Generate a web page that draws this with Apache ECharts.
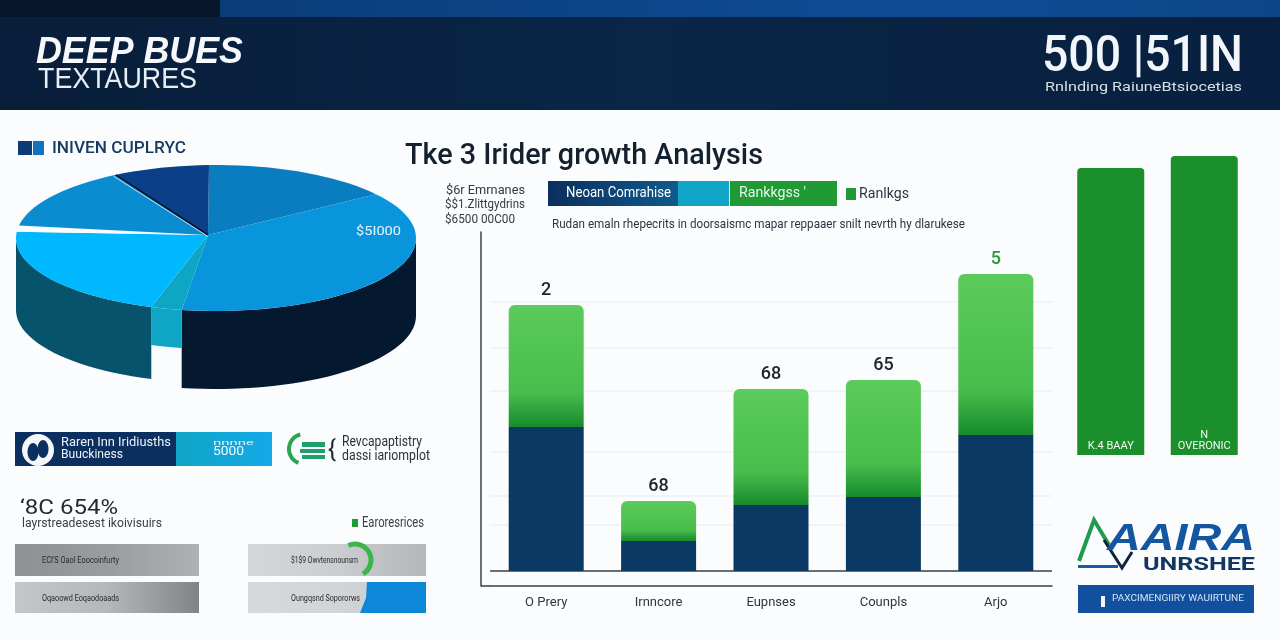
<!DOCTYPE html>
<html>
<head>
<meta charset="utf-8">
<style>html,body{margin:0;padding:0;background:#fbfcfd}#c{width:1280px;height:640px}</style>
<script src="https://cdn.jsdelivr.net/npm/echarts@6/dist/echarts.min.js"></script>
</head>
<body>
<div id="c"></div>
<script>
// ---- data ----
var categories = ['O Prery', 'Irnncore', 'Eupnses', 'Counpls', 'Arjo'];
var navyValues = [144, 30, 66, 74, 136];
var greenValues = [122, 40, 116, 117, 161];
var topLabels = ['2', '68', '68', '65', '5'];
var referenceLevels = [269, 223, 180, 119, 75, 46];
var sideCategories = ['K.4 BAAY', 'N\nOVERONIC'];
var sideValues = [287, 299];
var pieShares = [15.3, 38, 2.5, 21.1, 1.4, 13.9, 7.8];
var pieColors = ['#0a7cc0', '#0895dc', '#0fa6c6', '#00b8ff', '#fbfcfd', '#0a8dd0', '#0b3f87'];
var pieWallColors = [null, '#04182f', '#0fa6c6', '#07536b', null, null, null];
var pieWallDepths = [0, 78, 38, 72, 0, 0, 0];

// ---- helpers ----
var FONT = 'Roboto, "Noto Sans", sans-serif';
var measure = document.createElement('canvas').getContext('2d');
function T(text, x, y, size, color, width, opts) {
  opts = opts || {};
  var font = (opts.style || 'normal') + ' ' + (opts.weight || 'normal') + ' ' + size + 'px ' + (opts.family || FONT);
  measure.font = font;
  var natural = measure.measureText(text).width;
  return {
    type: 'text', x: x, y: y + size * 0.07, z: 100, silent: true,
    scaleX: width ? width / natural : 1,
    style: { text: text, x: 0, y: 0, fill: color, font: font, textAlign: 'left', textVerticalAlign: 'middle' }
  };
}
function R(x, y, w, h, fill, r) {
  return { type: 'rect', z: 10, silent: true, shape: { x: x, y: y, width: w, height: h, r: r || 0 }, style: { fill: fill } };
}
function H(stops) { // horizontal gradient
  return { type: 'linear', x: 0, y: 0, x2: 1, y2: 0, colorStops: stops.map(function (c, i) { return { offset: i / (stops.length - 1), color: c }; }) };
}

// ---- pie geometry ----
var PIE = { cx: 216, cy: 238, rx: 200, ry: 73, ax: 208, ay: 235, start: -2 };
function rimPoint(deg, dy) {
  var t = deg * Math.PI / 180;
  return [PIE.cx + PIE.rx * Math.sin(t), PIE.cy - PIE.ry * Math.cos(t) + (dy || 0)];
}
function arcPoints(a, b, dy) {
  var pts = [], n = Math.max(2, Math.ceil(Math.abs(b - a) / 3));
  for (var i = 0; i <= n; i++) pts.push(rimPoint(a + (b - a) * i / n, dy));
  return pts;
}
var pieTotal = pieShares.reduce(function (s, v) { return s + v; }, 0);
function renderSlice(params, api) {
  var i = params.dataIndex, before = 0;
  for (var k = 0; k < i; k++) before += pieShares[k];
  var a = PIE.start + before / pieTotal * 360, b = a + api.value(0) / pieTotal * 360;
  var children = [];
  var depth = pieWallDepths[i];
  if (depth) {
    var wa = Math.max(a, 90), wb = Math.min(b, 270);
    var top = arcPoints(wa, wb, 0), bottom = arcPoints(wb, wa, depth);
    children.push({ type: 'polygon', shape: { points: top.concat(bottom) }, style: { fill: pieWallColors[i] } });
  }
  children.push({
    type: 'polygon',
    shape: { points: [[PIE.ax, PIE.ay]].concat(arcPoints(a, b, 0)) },
    style: { fill: pieColors[i] }
  });
  if (i === pieShares.length - 1) {
    var p = rimPoint(a, 0);
    children.push({ type: 'line', shape: { x1: PIE.ax, y1: PIE.ay, x2: p[0], y2: p[1] }, style: { stroke: '#06142a', lineWidth: 1.6 } });
    children.push({ type: 'line', shape: { x1: PIE.ax, y1: PIE.ay + 1.5, x2: p[0] - 2, y2: p[1] + 1.5 }, style: { stroke: '#e8f2fa', lineWidth: 0.8 } });
  }
  return { type: 'group', children: children };
}

// ---- static page elements ----
var g = [];
// header
g.push(R(0, 0, 1280, 110, H(['#081e3a', '#0a2546', '#08203f'])));
g.push(R(0, 0, 220, 17, '#07152b'));
g.push(R(220, 0, 1060, 17, H(['#0b3c7a', '#0d4488', '#0f4c96', '#0d4688'])));
g.push(T('DEEP BUES', 36, 50, 37, '#f6f8fb', 207, { style: 'italic', weight: 'bold', family: '"Liberation Sans", sans-serif' }));
g.push(T('TEXTAURES', 38, 78, 29, '#e9eef4', 159, { family: '"Liberation Sans", sans-serif' }));
g.push(T('500 |51IN', 1042, 55, 50, '#f2f5f9', 201, { family: 'Roboto, sans-serif', weight: '500' }));
g.push(T('Rnlnding RaiuneBtsiocetias', 1045, 87, 13, '#d7dfe8', 197));
// pie legend
g.push(R(18, 141, 14, 14, '#0c3a73'));
g.push(R(33, 141, 11, 14, '#0f74bb'));
g.push(T('INIVEN CUPLRYC', 52, 148, 17, '#173a63', 134, { weight: '500' }));
g.push(T('$5I000', 356, 231, 13, '#e8f5fd', 45));
// title block
g.push(T('Tke 3 Irider growth Analysis', 405, 155, 29, '#14202e', 358, { weight: '500' }));
g.push(T('$6r Emrnanes', 446, 190, 13, '#333a42', 79));
g.push(T('$$1.Zlittgydrins', 445, 204, 13, '#333a42', 80));
g.push(T('$6500 00C00', 445, 219, 13, '#333a42', 70));
g.push(R(548, 181, 130, 25, H(['#0b2f5e', '#0e5a8c'])));
g.push(R(678, 181, 51, 25, '#12a5c8'));
g.push(R(730, 181, 107, 25, '#1f9a34'));
g.push(T('Neoan Comrahise', 566, 193, 14, '#ffffff', 105));
g.push(T("Rankkgss '", 739, 193, 14, '#eaf7ec', 67));
g.push(R(846, 188, 10, 12, '#1f9a34'));
g.push(T('Ranlkgs', 859, 194, 14, '#2d3640', 50));
g.push(T('Rudan emaln rhepecrits in doorsaismc mapar reppaaer snilt nevrth hy dlarukese', 552, 224, 13, '#2d3640', 413));
// left cards
g.push(R(15, 432, 161, 34, '#0b2f5e'));
g.push(R(176, 432, 96, 34, H(['#10a5c5', '#14a9e8'])));
g.push({ type: 'circle', z: 11, silent: true, shape: { cx: 38, cy: 450, r: 16 }, style: { fill: '#f4f6f8' } });
g.push({ type: 'ellipse', z: 12, silent: true, shape: { cx: 33, cy: 452, rx: 5.5, ry: 9 }, style: { fill: '#0b2f5e' } });
g.push({ type: 'ellipse', z: 12, silent: true, shape: { cx: 43, cy: 449, rx: 5.5, ry: 9 }, style: { fill: '#0b2f5e' } });
g.push(T('Raren Inn Iridiusths', 61, 442, 12, '#eef3f8', 110));
g.push(T('Buuckiness', 61, 454, 12, '#eef3f8', 62));
g.push(T('nnnne', 213, 442, 8, '#dff5fd', 41));
g.push(T('5000', 213, 451, 12, '#f2fbff', 31));
g.push({ type: 'arc', z: 11, silent: true, shape: { cx: 304, cy: 449, r: 15, startAngle: Math.PI * 0.62, endAngle: Math.PI * 1.42, clockwise: true }, style: { stroke: '#2aa44f', lineWidth: 4, fill: 'none' } });
g.push(R(302, 442, 23, 5, '#1f9f6a'));
g.push(R(300, 449, 25, 4, '#1f9f6a'));
g.push(R(302, 455, 23, 4, '#1f9f6a'));
g.push(T('{', 328, 449, 24, '#222a33', 8));
g.push(T('Revcapaptistry', 342, 442, 14, '#2b3138', 80));
g.push(T('dassi iariomplot', 342, 456, 14, '#2b3138', 88));
g.push(T("\u20188C 654%", 20, 507, 21, '#242a31', 98));
g.push(T('layrstreadesest ikoivisuirs', 22, 523, 13, '#3a4149', 140));
g.push(R(352, 519, 6, 8, '#1f9a34'));
g.push(T('Earoresrices', 362, 523, 14, '#3a4149', 62));
// grey panels
g.push(R(15, 544, 184, 32, H(['#8f9093', '#9b9ca0', '#aeb0b4'])));
g.push(R(15, 582, 184, 31, H(['#c4c6c9', '#b6b7ba', '#828387'])));
g.push(R(248, 544, 178, 32, H(['#d4d6d9', '#cbcdd0', '#b4b6b9'])));
g.push(R(248, 582, 178, 31, H(['#d6d8db', '#d2d4d7', '#c6cacf'])));
g.push({ type: 'polygon', z: 11, silent: true, shape: { points: [[367, 582], [426, 582], [426, 613], [360, 613], [366, 598]] }, style: { fill: '#0d88d8' } });
g.push({ type: 'arc', z: 11, silent: true, shape: { cx: 355, cy: 560, r: 16, startAngle: -2.0, endAngle: 1.05, clockwise: true }, style: { stroke: '#3cb54a', lineWidth: 5, fill: 'none' } });
g.push(T('ECI'+"'"+'S Oaol Eoocoinfurty', 42, 560, 9, '#26292d', 77));
g.push(T('Oqaoowd Eoqaodoaads', 42, 598, 9, '#26292d', 77));
g.push(T('$1$9 Owvtensnounsm', 291, 560, 9, '#26292d', 67));
g.push(T('Oungqsnd Sopororws', 291, 598, 9, '#26292d', 69));
// logo
g.push({ type: 'polyline', z: 11, silent: true, shape: { points: [[1079, 561], [1094, 520], [1109, 545]] }, style: { stroke: '#1f9a50', lineWidth: 4, fill: 'none' } });
g.push({ type: 'polyline', z: 11, silent: true, shape: { points: [[1104, 540], [1122, 568], [1132, 552]] }, style: { stroke: '#10243c', lineWidth: 3, fill: 'none' } });
g.push(R(1078, 565, 40, 3, '#1c5aa5'));
g.push(T('AAIRA', 1107, 537, 37, '#14569f', 148, { weight: 'bold', style: 'italic', family: '"Liberation Sans", sans-serif' }));
g.push(T('UNRSHEE', 1143, 564, 19, '#12365f', 112, { weight: 'bold' }));
g.push(R(1078, 585, 176, 28, '#10509f'));
g.push(R(1101, 596, 4, 11, '#f2f6fb'));
g.push(T('PAXCIMENGIIRY WAUIRTUNE', 1112, 598, 9, '#d5e3f4', 132));
// stub of the bottom axis left of the first category band
g.push({ type: 'line', z: 10, silent: true, shape: { x1: 481, y1: 586, x2: 490, y2: 586 }, style: { stroke: '#3a4048', lineWidth: 1.5 } });

var referenceLines = referenceLevels.map(function (v) {
  return { yAxis: v, lineStyle: { color: '#eef0f3', width: 1.5, type: 'solid' } };
});
referenceLines.push({ yAxis: 0, lineStyle: { color: '#3a4048', width: 1.5, type: 'solid' } });

var option = {
  backgroundColor: '#fbfcfd',
  animation: false,
  graphic: { elements: g },
  grid: [
    { left: 490, right: 228, top: 232, bottom: 54 },
    { left: 1064, width: 187, top: 135, bottom: 185 }
  ],
  xAxis: [
    { type: 'category', gridIndex: 0, data: categories,
      axisLine: { show: true, onZero: false, lineStyle: { color: '#3a4048', width: 1.5 } },
      axisTick: { show: false },
      axisLabel: { color: '#2d3640', fontSize: 13, margin: 10, fontFamily: FONT } },
    { type: 'category', gridIndex: 1, data: sideCategories, show: false }
  ],
  yAxis: [
    { type: 'value', gridIndex: 0, min: -15, max: 339, offset: 9,
      axisLine: { show: true, lineStyle: { color: '#3a4048', width: 1.5 } },
      axisTick: { show: false }, axisLabel: { show: false }, splitLine: { show: false } },
    { type: 'value', gridIndex: 1, min: 0, max: 320, show: false, splitLine: { show: false } }
  ],
  series: [
    { type: 'bar', name: 'Navy', stack: 'main', xAxisIndex: 0, yAxisIndex: 0, z: 3, barWidth: 75,
      data: navyValues, itemStyle: { color: '#0a3a63' },
      markLine: { silent: true, symbol: 'none', z: 1, label: { show: false }, data: referenceLines } },
    { type: 'bar', name: 'Green', stack: 'main', xAxisIndex: 0, yAxisIndex: 0, z: 3, barWidth: 75,
      data: greenValues.map(function (v, i) {
        return { value: v, label: { color: i === greenValues.length - 1 ? '#2a9a35' : '#20262d' } };
      }),
      itemStyle: { borderRadius: [6, 6, 0, 0], color: { type: 'linear', x: 0, y: 0, x2: 0, y2: 1, colorStops: [
        { offset: 0, color: '#5bcb5b' }, { offset: 0.72, color: '#48bd4c' }, { offset: 1, color: '#178a2c' } ] } },
      label: { show: true, position: 'top', distance: 6, fontSize: 18, fontWeight: '500', fontFamily: FONT,
        formatter: function (p) { return topLabels[p.dataIndex]; } } },
    { type: 'bar', name: 'Side', xAxisIndex: 1, yAxisIndex: 1, barWidth: 67,
      data: sideValues, itemStyle: { color: '#1c8f2d', borderRadius: [4, 4, 0, 0] },
      label: { show: true, position: 'insideBottom', distance: 3, color: '#f2f8f2', fontSize: 11, fontFamily: FONT,
        formatter: function (p) { return sideCategories[p.dataIndex]; } } },
    { type: 'custom', name: 'Share', coordinateSystem: 'none', z: 2, silent: true,
      data: pieShares.map(function (v) { return [v]; }),
      renderItem: renderSlice }
  ]
};
var chart = echarts.init(document.getElementById('c'), null, { renderer: 'canvas' });
chart.setOption(option);
</script>
</body>
</html>
